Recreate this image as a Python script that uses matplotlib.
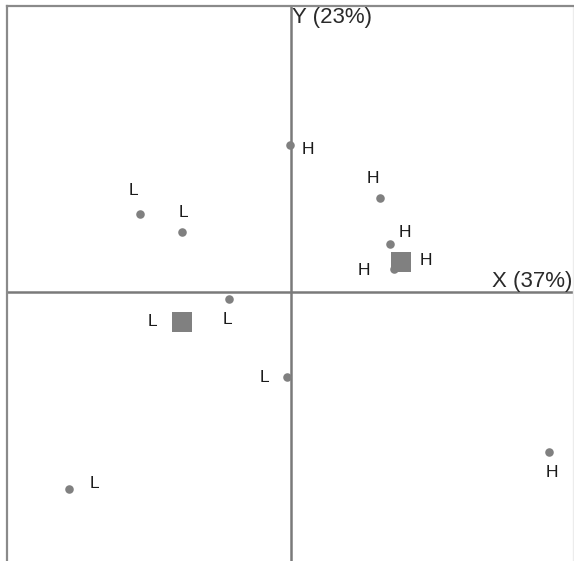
import matplotlib.pyplot as plt

plt.rcParams['font.family'] = ['Liberation Sans', 'DejaVu Sans']

# individual observations
obs_x = [-0.01, 0.89, 0.99, 1.03, 2.58, -1.51, -1.09, -0.62, -0.04, -2.22]
obs_y = [1.47, 0.94, 0.48, 0.23, -1.60, 0.78, 0.60, -0.07, -0.85, -1.97]
obs_lab = ['H', 'H', 'H', 'H', 'H', 'L', 'L', 'L', 'L', 'L']

# group centres
cen_x = [1.10, -1.09]
cen_y = [0.30, -0.30]
cen_lab = ['H', 'L']

axis_x_label = 'X (37%)'
axis_y_label = 'Y (23%)'

# label offsets in points (placement only)
obs_off = [(13, -3), (-5, 14), (11, 8), (-22, -1), (2, -15),
           (-5, 17), (1, 14), (-1, -15), (-16, 0), (18, 4)]
cen_off = [(18, 1), (-21, 0)]

fig = plt.figure(figsize=(5.74, 5.61), dpi=100)
ax = fig.add_axes([7 / 574, 0, 566 / 574, 555 / 561])

grey = '#808080'
ax.axhline(0, color='#7a7a7a', lw=1.8, zorder=1)
ax.axvline(0, color='#7a7a7a', lw=1.8, zorder=1)

ax.scatter(obs_x, obs_y, s=38, color=grey, zorder=3, linewidths=0)
ax.scatter(cen_x, cen_y, s=190, marker='s', color=grey, zorder=3, linewidths=0)

for x, y, t, o in zip(obs_x, obs_y, obs_lab, obs_off):
    ax.annotate(t, (x, y), xytext=o, textcoords='offset points',
                ha='center', va='center', fontsize=12.5, color='#1a1a1a')
for x, y, t, o in zip(cen_x, cen_y, cen_lab, cen_off):
    ax.annotate(t, (x, y), xytext=o, textcoords='offset points',
                ha='center', va='center', fontsize=12.5, color='#1a1a1a')

ax.set_xlim(-2.84, 2.82)
ax.set_ylim(-2.69, 2.86)

ax.text(0.01, 2.85, axis_y_label, ha='left', va='top', fontsize=16, color='#2a2a2a')
ax.text(2.81, 0.0, axis_x_label, ha='right', va='bottom', fontsize=16,
        color='#2a2a2a')

for side in ['left', 'top']:
    ax.spines[side].set_color('#8a8a8a')
    ax.spines[side].set_linewidth(1.6)
ax.spines['right'].set_color('#ececec')
ax.spines['right'].set_linewidth(1.0)
ax.spines['bottom'].set_visible(False)
ax.set_xticks([])
ax.set_yticks([])

fig.savefig('out.png', dpi=100)
